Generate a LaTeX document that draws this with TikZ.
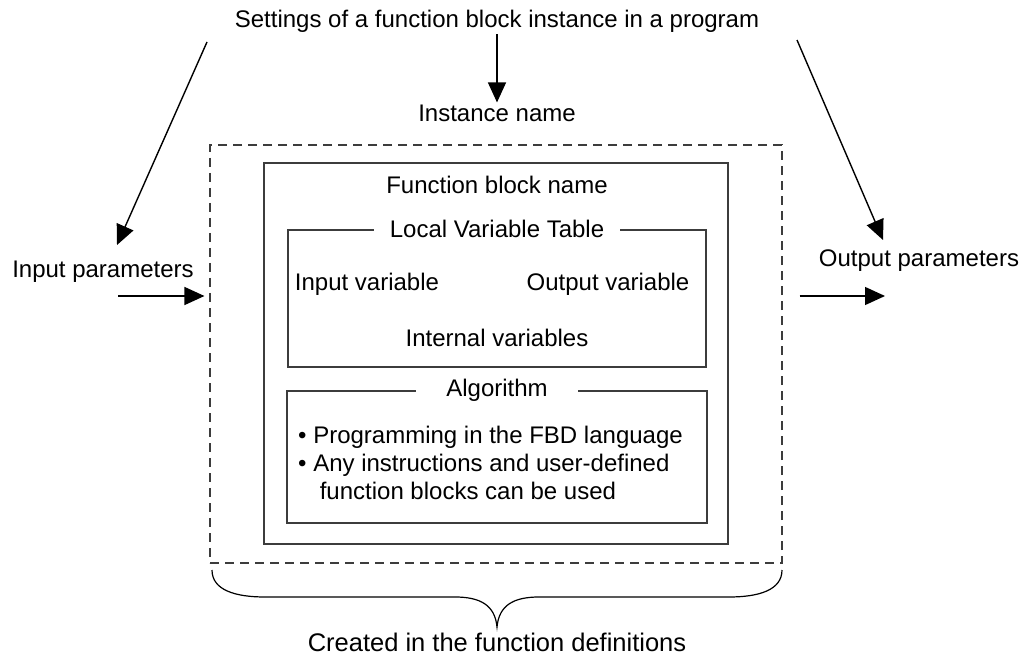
\documentclass[tikz,border=0pt]{standalone}
\usepackage{fontspec}
\setmainfont{Liberation Sans}
\definecolor{framegray}{RGB}{60, 60, 60}
\usetikzlibrary{positioning, arrows.meta}

\begin{document}
\begin{tikzpicture}[
  x=1pt, y=-1pt,
  lbl/.style={font=\fontsize{24}{28}\selectfont, inner sep=2pt},
  frame/.style={rectangle, draw=framegray, line width=1.2pt, inner sep=0pt},
  dashframe/.style={rectangle, draw=framegray, line width=1.1pt, dash pattern=on 9pt off 6pt, inner sep=0pt},
  framelbl/.style={lbl, fill=white, inner ysep=0pt},
  arrow/.style={-{Triangle[length=20pt, width=18pt]}, line width=1.4pt}
]
  \useasboundingbox (0,0) rectangle (1023,655);

  % Boxes
  \node[dashframe, minimum width=572pt, minimum height=418pt] (fbinst) at (496,354) {};
  \node[frame, minimum width=464pt, minimum height=381pt] (fbbody) at (496,353.5) {};
  \node[frame, minimum width=418pt, minimum height=137pt] (lvt) at (497,298.5) {};
  \node[frame, minimum width=420pt, minimum height=132pt] (algo) at (497,457) {};

  % Texts
  \node[lbl] (title) at (497,21) {Settings of a function block instance in a program};
  \node[lbl] (instname) at (497,113) {Instance name};
  \node[lbl] (inparams) at (103,272) {Input parameters};
  \node[lbl] (outparams) at (919,261) {Output parameters};
  \node[lbl] (fbname) at (497,185) {Function block name};
  \node[framelbl, inner xsep=16pt] (lvtname) at (lvt.north) {Local Variable Table};
  \node[lbl] (invar) at (367,284) {Input variable};
  \node[lbl] (outvar) at (608,284) {Output variable};
  \node[lbl] (intvar) at (497,338) {Internal variables};
  \node[framelbl, inner xsep=30pt] (algoname) at (algo.north) {Algorithm};
  \node[lbl, align=left, anchor=west] (algotext) at (296,463)
    {\textbullet{} Programming in the FBD language\\
     \textbullet{} Any instructions and user-defined\\
     \hspace{0.9em}function blocks can be used};
  \node[lbl, font=\fontsize{25.5}{28}\selectfont] (created) at (497,642) {Created in the function definitions};

  % Arrows
  \coordinate (lstart) at (207,42);
  \coordinate (ltip) at (117,245);
  \coordinate (rstart) at (797,40);
  \coordinate (rtip) at (883,240);
  \coordinate (inarr) at (118,296);
  \coordinate (outarr) at (885,296);
  \draw[arrow] (title) -- (instname);
  \draw[arrow] (lstart) -- (ltip);
  \draw[arrow] (rstart) -- (rtip);
  \draw[arrow, shorten >=5pt] (inarr) -- (inarr -| fbinst.west);
  \draw[arrow, shorten <=17pt] (fbinst.east |- outarr) -- (outarr);

  % Brace
  \coordinate (bleft) at (212,570);
  \draw[line width=1.2pt] (bleft)
    .. controls +(0,20) and +(-30,0) .. ++(53,27) -- ++(190,0)
    .. controls +(25,0) and +(-2,-22) .. ++(42,30)
    .. controls +(2,-22) and +(-25,0) .. ++(42,-30) -- ++(190,0)
    .. controls +(30,0) and +(0,20) .. ++(53,-27);
\end{tikzpicture}
\end{document}
